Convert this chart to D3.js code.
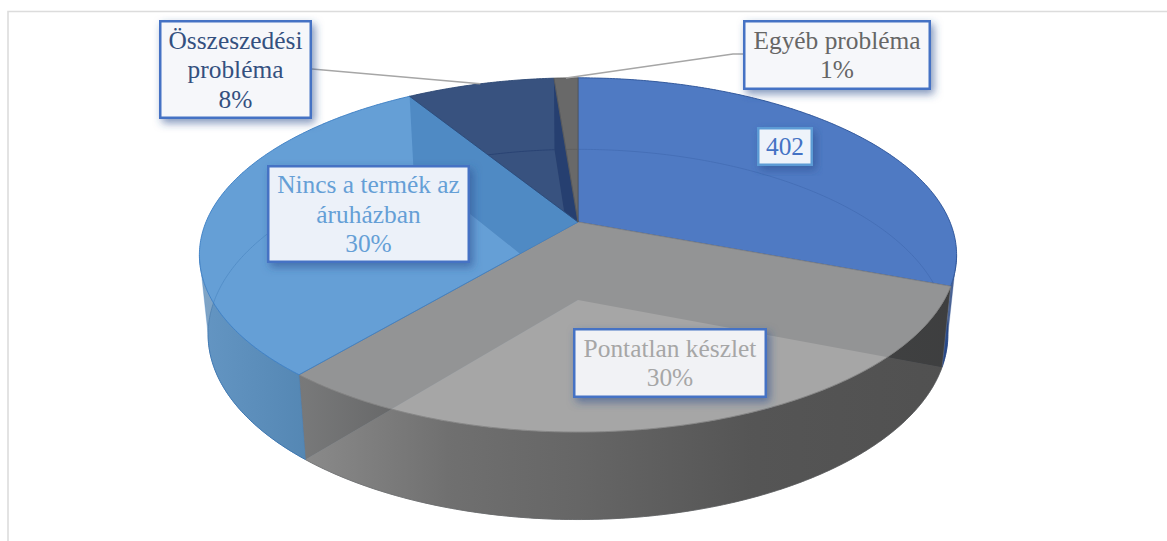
<!DOCTYPE html>
<html>
<head>
<meta charset="utf-8">
<script src="https://cdn.jsdelivr.net/npm/d3@7"></script>
<style>
html,body{margin:0;padding:0;background:#fff;overflow:hidden}
svg{display:block}
text{font-family:"Liberation Serif",serif;font-size:25.4px;text-anchor:middle}
</style>
</head>
<body>
<svg id="c" width="1167" height="541"></svg>
<script>
// data
const categories = ["Első kategória", "Pontatlan készlet", "Nincs a termék az áruházban", "Összeszedési probléma", "Egyéb probléma"];
const values = [402, 398, 394, 99, 16];
const labelLines = [[], ["Pontatlan készlet"], ["Nincs a termék az", "áruházban"], ["Összeszedési", "probléma"], ["Egyéb probléma"]];
const showValueOnly = [true, false, false, false, false];

// styles
const topColors  = ["#4c78c2", "#a5a5a5", "#609ad1", "#2f4b79", "#656565"];
const baseColors = ["#5a82c8", "#aaaaaa", "#78b4eb", "#5a6e96", "#787878"];
const wallColors = ["#1e3c78", "#4e5256", "#0a4b91", "#000f4b", "#383838"];
const edgeColors = ["#2f5597", "#858585", "#3f80c4", "#2f4a75", "#5a5a5a"];
const textColors = ["#4472c4", "#a6a6a6", "#659fd6", "#34507f", "#666666"];
const boxFills   = ["#eef3fa", "#f1f2f5", "#ecf1f9", "#f6f7fa", "#f6f7fa"];
const boxStrokes = ["#5b9bd5", "#4472c4", "#4472c4", "#4472c4", "#4472c4"];
const boxes = [[757,127,813,166],[573,328,767,398],[267,165,470,263],[159,20,312,119],[743,20,931,90]];
const rimStops = [
  [[900,"#1e3c78"],[956,"#1e3c78"]],
  [[305,"#828282"],[450,"#616161"],[578,"#555555"],[750,"#404040"],[945,"#3a3a3a"]],
  [[199,"#5f8eb9"],[305,"#4c7ca6"]],
  [[0,"#000"],[1,"#000"]],
  [[0,"#000"],[1,"#000"]]
];

// projection of the pie disc
const cx = 578, topY = 222, baseY = 300, k = 0.186, a = 372, b = 171;
const baseSX = 0.977, baseSY = 1.045;
const front = [100.7 * Math.PI / 180, 259.3 * Math.PI / 180];
const alpha = 0.8;

function project(theta, r, isBase) {
  const u = r * Math.sin(theta), v = -r * Math.cos(theta), w = 1 - k * v;
  const px = a * u / w, py = b * v / w;
  return isBase ? [cx + baseSX * px, baseY + baseSY * py] : [cx + px, topY + py];
}
function arcPts(t0, t1, isBase) {
  const n = Math.max(2, Math.ceil((t1 - t0) / 0.01));
  return d3.range(n + 1).map(i => project(t0 + (t1 - t0) * i / n, 1, isBase));
}
const line = d3.line();
const wedge = (t0, t1, isBase) => line([project(0, 0, isBase), ...arcPts(t0, t1, isBase)]) + "Z";

const arcs = d3.pie().sort(null).startAngle(0).endAngle(2 * Math.PI)(values);
const total = d3.sum(values);
const svg = d3.select("#c");
const defs = svg.append("defs");

const f = defs.append("filter").attr("id", "sh").attr("x", "-20%").attr("y", "-20%").attr("width", "140%").attr("height", "150%");
f.append("feDropShadow").attr("dx", 3).attr("dy", 4).attr("stdDeviation", 4)
  .attr("flood-color", "#2f4f8f").attr("flood-opacity", 0.6);

rimStops.forEach((st, i) => {
  const g = defs.append("linearGradient").attr("id", "rim" + i).attr("gradientUnits", "userSpaceOnUse")
    .attr("x1", st[0][0]).attr("x2", st[st.length - 1][0]).attr("y1", 0).attr("y2", 0);
  const off = d3.scaleLinear().domain([st[0][0], st[st.length - 1][0]]).range([0, 1]);
  st.forEach(s => g.append("stop").attr("offset", off(s[0])).attr("stop-color", s[1]));
});

// frame
svg.append("path").attr("d", "M8,541V11.5H1167").attr("fill", "none").attr("stroke", "#dcdcdc").attr("stroke-width", 1.6);

// under layers: each slice's footprint
const under = svg.append("g");
arcs.forEach((d, i) => {
  under.append("path").attr("d", wedge(d.startAngle, d.endAngle, true)).attr("fill", baseColors[i]);
  under.append("path").attr("d", wedge(d.startAngle, d.endAngle, false)).attr("fill", baseColors[i]);
});
arcs.forEach((d, i) => {
  under.append("path").attr("d", line(arcPts(d.startAngle, d.endAngle, true))).attr("fill", "none")
    .attr("stroke", wallColors[i]).attr("stroke-width", 0.8);
});

// inner walls: each edge belongs to the slice lying in front of it; painted back to front
const walls = svg.append("g");
arcs.map((d, i) => ({ theta: d.startAngle, i }))
  .filter(e => e.theta > 0)
  .sort((p, q) => Math.abs(q.theta - Math.PI) - Math.abs(p.theta - Math.PI))
  .forEach(({ theta, i }) => {
    const owner = theta < Math.PI ? i : (i - 1 + arcs.length) % arcs.length;
    const p = [project(0, 0, false), project(theta, 1, false), project(theta, 1, true), project(0, 0, true)];
    walls.append("path").attr("d", line(p) + "Z").attr("fill", wallColors[owner]);
  });

// outer rim (front half only)
const rims = svg.append("g");
arcs.forEach((d, i) => {
  const t0 = Math.max(d.startAngle, front[0]), t1 = Math.min(d.endAngle, front[1]);
  if (t1 <= t0) return;
  const p = [...arcPts(t0, t1, false), ...arcPts(t0, t1, true).reverse()];
  rims.append("path").attr("d", line(p) + "Z").attr("fill", `url(#rim${i})`).attr("fill-opacity", alpha)
    .attr("stroke", edgeColors[i]).attr("stroke-width", 0.5).attr("stroke-opacity", 0.6);
});

// top faces
const tops = svg.append("g");
arcs.forEach((d, i) => {
  tops.append("path").attr("d", wedge(d.startAngle, d.endAngle, false))
    .attr("fill", topColors[i]).attr("fill-opacity", alpha)
    .attr("stroke", edgeColors[i]).attr("stroke-width", 0.9);
});

// leader lines
const leaderElbows = { 3: [[312, 69]], 4: [[743, 54], [733, 54]] };
Object.keys(leaderElbows).forEach(i => {
  const d = arcs[i];
  const end = project((d.startAngle + d.endAngle) / 2, 1, false);
  svg.append("path").attr("d", line([...leaderElbows[i], end])).attr("fill", "none")
    .attr("stroke", "#a6a6a6").attr("stroke-width", 1.5);
});

// data labels
const pct = d3.format(".0%");
const lh = 29.5;
arcs.forEach((d, i) => {
  const [x0, y0, x1, y1] = boxes[i];
  const g = svg.append("g");
  g.append("rect").attr("x", x0 + 1.25).attr("y", y0 + 1.25).attr("width", x1 - x0 - 2.5).attr("height", y1 - y0 - 2.5)
    .attr("fill", boxFills[i]).attr("stroke", boxStrokes[i]).attr("stroke-width", 2.5).attr("filter", "url(#sh)");
  const lines = showValueOnly[i] ? [String(values[i])] : [...labelLines[i], pct(values[i] / total)];
  const mx = (x0 + x1) / 2, my = (y0 + y1) / 2 + 8.5;
  lines.forEach((t, j) => {
    g.append("text").attr("x", mx).attr("y", my + (j - (lines.length - 1) / 2) * lh)
      .attr("fill", textColors[i]).text(t);
  });
});
</script>
</body>
</html>
